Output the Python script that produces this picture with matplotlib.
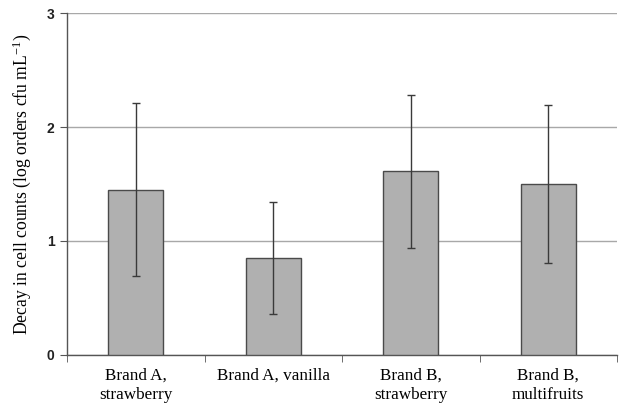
import matplotlib
matplotlib.use("Agg")
import matplotlib.pyplot as plt
import numpy as np

categories = ["Brand A,\nstrawberry", "Brand A, vanilla", "Brand B,\nstrawberry", "Brand B,\nmultifruits"]
means = [1.45, 0.85, 1.61, 1.50]
errors = [0.76, 0.49, 0.67, 0.69]
yticks = [0, 1, 2, 3]

plt.rcParams["mathtext.fontset"] = "custom"
plt.rcParams["mathtext.rm"] = "Liberation Serif"
plt.rcParams["mathtext.it"] = "Liberation Serif:italic"
plt.rcParams["mathtext.default"] = "rm"

fig = plt.figure(figsize=(6.21, 4.04), dpi=100)
ax = fig.add_axes([0.108, 0.1213, 0.8856, 0.8465])

x = np.arange(len(categories))
ax.bar(x, means, width=0.40, color="#b0b0b0", edgecolor="#4a4a4a", linewidth=1.0, zorder=3)
ax.errorbar(x, means, yerr=errors, fmt="none", ecolor="#3a3a3a", elinewidth=1.0,
            capsize=2.8, capthick=1.0, zorder=4)

ax.set_xlim(-0.5, len(categories) - 0.5)
ax.set_ylim(0, 3)
ax.set_yticks(yticks)
ax.set_yticklabels([str(t) for t in yticks], fontfamily="Liberation Sans",
                   fontweight="bold", fontsize=10, color="#222222")
ax.yaxis.grid(True, color="#a8a8a8", linewidth=1.0, zorder=0)
ax.set_axisbelow(True)

ax.set_xticks(x)
ax.set_xticklabels(categories, fontfamily="Liberation Serif", fontsize=12.3, linespacing=1.3)
ax.tick_params(axis="x", length=0, pad=9)
ax.set_xticks(np.arange(-0.5, len(categories)), minor=True)
ax.tick_params(axis="x", which="minor", length=5, direction="out", color="#555555")
ax.tick_params(axis="y", length=5, direction="out", color="#555555", pad=4)

for s in ["top", "right"]:
    ax.spines[s].set_visible(False)
for s in ["left", "bottom"]:
    ax.spines[s].set_color("#555555")
    ax.spines[s].set_linewidth(1.0)

ax.set_ylabel("Decay in cell counts (log orders cfu mL$^{-1}$)", fontfamily="Liberation Serif",
              fontsize=12.7, labelpad=10)

fig.savefig("out.png", dpi=100)
